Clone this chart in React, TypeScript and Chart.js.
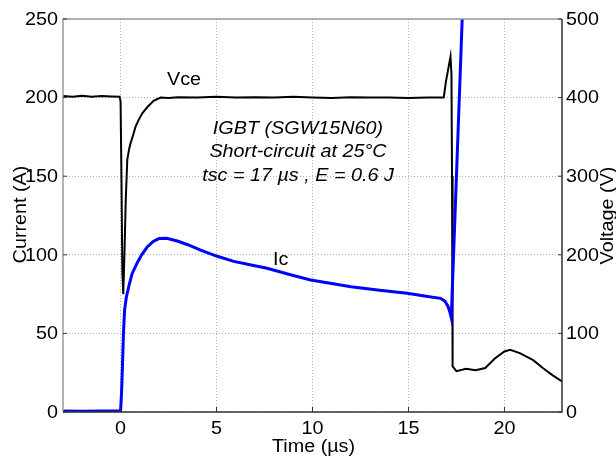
import React, { useEffect, useRef } from "react";
import { Chart, registerables } from "chart.js";

Chart.register(...registerables);

// ---- data ----
const timeVce = [-3, -2.5, -2, -1.5, -1, -0.5, -0.05, 0, 0.05, 0.09, 0.14, 0.2, 0.27, 0.35, 0.45, 0.52, 0.65, 0.78, 0.95, 1.13, 1.4, 1.72, 2.08, 2.5, 3, 4, 5, 6, 7, 8, 9, 10, 11, 12, 13, 14, 15, 16, 16.84, 16.95, 17.1, 17.19, 17.24, 17.27, 17.29, 17.31, 17.5, 18, 18.5, 19, 19.5, 20, 20.3, 20.8, 21.5, 22, 22.5, 23];
const vceValues = [402, 401, 402.5, 401, 402, 401.5, 401, 395, 290, 180, 150, 200, 270, 321, 335, 342, 352, 363, 372, 380, 388, 396, 400, 399.5, 400.5, 400, 401, 400, 400.5, 400, 401, 400, 399.5, 400.5, 400, 400, 399.5, 400, 400, 420, 440, 452, 430, 300, 120, 58, 52, 55, 53, 56, 68, 77, 79, 75, 66, 56, 47, 39];

const timeIc = [-3, -2, -1, -0.05, 0, 0.05, 0.1, 0.15, 0.21, 0.3, 0.43, 0.6, 0.87, 1.1, 1.39, 1.7, 2.0, 2.4, 3.0, 3.5, 4.17, 5, 5.9, 6.8, 7.64, 8.8, 9.9, 11, 12, 13.5, 14.93, 16, 16.67, 16.9, 17.05, 17.15, 17.23, 17.8, 17.86];
const icValues = [0.6, 0.5, 0.7, 0.6, 0.8, 12, 30, 50, 65, 73, 80, 88, 95, 100, 105, 108.5, 110.3, 110.5, 108.6, 106.4, 103, 99.2, 95.8, 93.5, 91.4, 87.5, 84, 81.7, 79.7, 77.5, 75.5, 73.5, 72.3, 70.5, 67.5, 64, 60, 250, 270];

const timeTicks = [0, 5, 10, 15, 20];
const currentTicks = [0, 50, 100, 150, 200, 250];
const voltageTicks = [0, 100, 200, 300, 400, 500];

const infoLines = ["IGBT (SGW15N60)", "Short-circuit at 25°C", "tsc = 17 µs , E = 0.6 J"];

const FONT = "'Liberation Sans', Arial, Helvetica, sans-serif";
const SIZE = 17.5;
const STRETCH = 1.13;

function drawText(ctx: CanvasRenderingContext2D, text: string, x: number, y: number, align: CanvasTextAlign, rot = 0, italic = false) {
  ctx.save();
  ctx.translate(x, y);
  ctx.rotate(rot);
  ctx.scale(STRETCH, 1);
  ctx.font = `${italic ? "italic " : ""}${SIZE}px ${FONT}`;
  ctx.fillStyle = "#000";
  ctx.textAlign = align;
  ctx.textBaseline = "middle";
  ctx.fillText(text, 0, 0);
  ctx.restore();
}

const decorPlugin = {
  id: "decor",
  afterDraw(chart: any) {
    const ctx: CanvasRenderingContext2D = chart.ctx;
    const { left, right, top, bottom } = chart.chartArea;
    const xs = chart.scales.x;
    const yl = chart.scales.y;
    const yr = chart.scales.y2;

    ctx.save();
    // frame
    ctx.lineWidth = 1.5;
    ctx.strokeStyle = "#9a9a9a";
    ctx.beginPath();
    ctx.moveTo(left, bottom);
    ctx.lineTo(left, top);
    ctx.lineTo(right, top);
    ctx.stroke();
    ctx.strokeStyle = "#333";
    ctx.beginPath();
    ctx.moveTo(left, bottom);
    ctx.lineTo(right, bottom);
    ctx.lineTo(right, top);
    ctx.stroke();

    // inward ticks
    ctx.lineWidth = 1;
    ctx.strokeStyle = "#333";
    ctx.beginPath();
    timeTicks.forEach((t) => {
      const px = xs.getPixelForValue(t);
      ctx.moveTo(px, bottom);
      ctx.lineTo(px, bottom - 5);
    });
    currentTicks.forEach((v) => {
      const py = yl.getPixelForValue(v);
      ctx.moveTo(left, py);
      ctx.lineTo(left + 4, py);
    });
    voltageTicks.forEach((v) => {
      const py = yr.getPixelForValue(v);
      ctx.moveTo(right, py);
      ctx.lineTo(right - 4, py);
    });
    ctx.stroke();

    // tick labels
    timeTicks.forEach((t) => drawText(ctx, String(t), xs.getPixelForValue(t), bottom + 17, "center"));
    currentTicks.forEach((v) => drawText(ctx, String(v), left - 5, yl.getPixelForValue(v) + 1, "right"));
    voltageTicks.forEach((v) => drawText(ctx, String(v), right + 4, yr.getPixelForValue(v) + 1, "left"));

    // axis titles
    const midY = (top + bottom) / 2;
    drawText(ctx, "Time (µs)", (left + right) / 2 + 1, bottom + 35, "center");
    drawText(ctx, "Current (A)", 21, midY - 1, "center", -Math.PI / 2);
    drawText(ctx, "Voltage (V)", 608, midY, "center", -Math.PI / 2);

    // annotations
    drawText(ctx, "Vce", 167, 80, "left");
    drawText(ctx, "Ic", 273, 260, "left");
    infoLines.forEach((s, i) => drawText(ctx, s, 298, 129 + i * 23.5, "center", 0, true));
    ctx.restore();
  },
};

export default function App() {
  const ref = useRef<HTMLCanvasElement | null>(null);

  useEffect(() => {
    if (!ref.current) return;
    const chart = new Chart(ref.current, {
      type: "line",
      data: {
        datasets: [
          {
            label: "Ic",
            data: timeIc.map((t, i) => ({ x: t, y: icValues[i] })),
            borderColor: "#0000ff",
            borderWidth: 3,
            pointRadius: 0,
            tension: 0,
            yAxisID: "y",
            order: 0,
          },
          {
            label: "Vce",
            data: timeVce.map((t, i) => ({ x: t, y: vceValues[i] })),
            borderColor: "#000000",
            borderWidth: 2,
            pointRadius: 0,
            tension: 0,
            yAxisID: "y2",
            order: 1,
          },
        ],
      },
      options: {
        animation: false,
        responsive: true,
        maintainAspectRatio: false,
        layout: { padding: { top: 19, left: 0, right: 0, bottom: 0 } },
        plugins: { legend: { display: false }, tooltip: { enabled: false } },
        scales: {
          x: {
            type: "linear",
            min: -3,
            max: 23,
            ticks: { display: false, stepSize: 5, includeBounds: false },
            grid: { color: "#b0b0b0", lineWidth: 1, drawTicks: false },
            border: { display: false, dash: [1, 2] },
            afterFit: (s: any) => { s.height = 45; },
          },
          y: {
            type: "linear",
            position: "left",
            min: 0,
            max: 250,
            ticks: { display: false, stepSize: 50 },
            grid: { color: "#b0b0b0", lineWidth: 1, drawTicks: false },
            border: { display: false, dash: [1, 2] },
            afterFit: (s: any) => { s.width = 63; },
          },
          y2: {
            type: "linear",
            position: "right",
            min: 0,
            max: 500,
            ticks: { display: false, stepSize: 100 },
            grid: { display: false, drawTicks: false },
            border: { display: false },
            afterFit: (s: any) => { s.width = 54; },
          },
        },
      },
      plugins: [decorPlugin],
    });
    return () => chart.destroy();
  }, []);

  return (
    <div style={{ position: "fixed", left: 0, top: 0, width: 616, height: 457, background: "#fff" }}>
      <canvas ref={ref} />
    </div>
  );
}
